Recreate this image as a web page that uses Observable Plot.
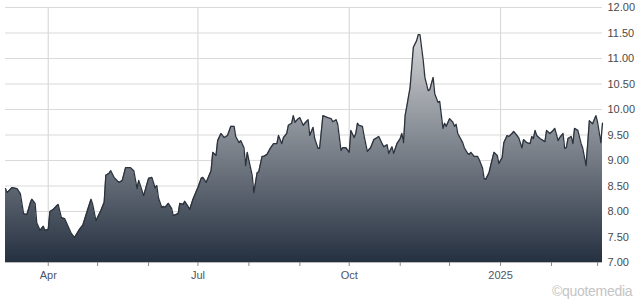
<!DOCTYPE html>
<html>
<head>
<meta charset="utf-8">
<script src="https://cdn.jsdelivr.net/npm/d3@7"></script>
<script src="https://cdn.jsdelivr.net/npm/@observablehq/plot@0.6"></script>
<style>
  html, body { margin: 0; padding: 0; background: #fff; }
  #wrap { position: relative; width: 636px; height: 301px; }
  #credit { position: absolute; left: 552px; top: 283px; font: 14px "Liberation Sans", Arial, sans-serif; color: #c4c4c4; letter-spacing: -0.3px; }
</style>
</head>
<body>
<div id="wrap"><div id="credit">©quotemedia</div></div>
<script>
const dates = [
"2024-03-06","2024-03-07","2024-03-10","2024-03-13","2024-03-15","2024-03-17","2024-03-19","2024-03-21","2024-03-22","2024-03-24",
"2024-03-25","2024-03-27","2024-03-29","2024-03-30","2024-04-01","2024-04-02","2024-04-04","2024-04-07","2024-04-09","2024-04-11",
"2024-04-15","2024-04-17","2024-04-20","2024-04-22","2024-04-25","2024-04-27","2024-04-28","2024-04-30","2024-05-03","2024-05-05",
"2024-05-06","2024-05-08","2024-05-09","2024-05-11","2024-05-14","2024-05-16","2024-05-18","2024-05-21","2024-05-23","2024-05-25",
"2024-05-26","2024-05-29","2024-06-01","2024-06-03","2024-06-05","2024-06-06","2024-06-07","2024-06-09","2024-06-10","2024-06-11",
"2024-06-13","2024-06-15","2024-06-16","2024-06-19","2024-06-20","2024-06-22","2024-06-23","2024-06-25","2024-06-26","2024-06-28",
"2024-07-01","2024-07-03","2024-07-04","2024-07-06","2024-07-09","2024-07-10","2024-07-12","2024-07-13","2024-07-15","2024-07-17",
"2024-07-19","2024-07-21","2024-07-23","2024-07-24","2024-07-26","2024-07-27","2024-07-29","2024-07-30","2024-07-31","2024-08-01",
"2024-08-03","2024-08-04","2024-08-06","2024-08-07","2024-08-09","2024-08-10","2024-08-12","2024-08-14","2024-08-16","2024-08-18",
"2024-08-19","2024-08-21","2024-08-22","2024-08-24","2024-08-25","2024-08-27","2024-08-28","2024-08-29","2024-08-31","2024-09-01",
"2024-09-03","2024-09-04","2024-09-06","2024-09-07","2024-09-09","2024-09-10","2024-09-12","2024-09-13","2024-09-15","2024-09-18",
"2024-09-20","2024-09-21","2024-09-23","2024-09-24","2024-09-26","2024-09-27","2024-09-29","2024-10-01","2024-10-02","2024-10-04",
"2024-10-05","2024-10-06","2024-10-07","2024-10-09","2024-10-10","2024-10-12","2024-10-14","2024-10-16","2024-10-18","2024-10-19",
"2024-10-21","2024-10-22","2024-10-24","2024-10-25","2024-10-27","2024-10-28","2024-10-30","2024-11-01","2024-11-02","2024-11-03",
"2024-11-04","2024-11-05","2024-11-07","2024-11-09","2024-11-11","2024-11-12","2024-11-13","2024-11-15","2024-11-16","2024-11-18",
"2024-11-19","2024-11-21","2024-11-22","2024-11-24","2024-11-25","2024-11-27","2024-11-28","2024-11-29","2024-12-01","2024-12-03",
"2024-12-04","2024-12-05","2024-12-06","2024-12-09","2024-12-10","2024-12-12","2024-12-13","2024-12-14","2024-12-16","2024-12-18",
"2024-12-19","2024-12-21","2024-12-22","2024-12-23","2024-12-25","2024-12-26","2024-12-28","2024-12-30","2024-12-31","2025-01-02",
"2025-01-03","2025-01-05","2025-01-06","2025-01-08","2025-01-09","2025-01-11","2025-01-12","2025-01-14","2025-01-15","2025-01-17",
"2025-01-19","2025-01-20","2025-01-21","2025-01-22","2025-01-23","2025-01-25","2025-01-27","2025-01-28","2025-01-29","2025-01-31",
"2025-02-02","2025-02-03","2025-02-05","2025-02-06","2025-02-08","2025-02-09","2025-02-10","2025-02-11","2025-02-13","2025-02-14",
"2025-02-15","2025-02-17","2025-02-19","2025-02-20","2025-02-22","2025-02-23","2025-02-24","2025-02-26","2025-02-28","2025-03-01",
"2025-03-03","2025-03-04"
];
const prices = [
8.45,8.37,8.47,8.45,8.35,7.96,7.94,8.16,8.24,8.16,
7.78,7.63,7.71,7.63,7.65,8.00,8.04,8.14,7.88,7.86,
7.57,7.49,7.65,7.73,8.04,8.24,8.14,7.82,8.02,8.18,
8.71,8.75,8.80,8.67,8.57,8.61,8.86,8.86,8.80,8.45,
8.61,8.31,8.65,8.67,8.46,8.51,8.27,8.08,8.10,8.08,
8.16,8.06,7.92,7.96,8.16,8.14,8.20,8.10,8.04,8.24,
8.47,8.65,8.67,8.57,8.80,9.16,9.10,9.39,9.53,9.45,
9.49,9.67,9.67,9.47,9.35,9.39,9.25,8.90,9.16,9.00,
8.71,8.37,8.76,8.78,9.08,9.08,9.12,9.24,9.33,9.33,
9.49,9.33,9.45,9.53,9.69,9.73,9.88,9.75,9.82,9.84,
9.69,9.73,9.80,9.49,9.65,9.43,9.24,9.24,9.88,9.84,
9.82,9.76,9.80,9.71,9.20,9.25,9.25,9.16,9.59,9.45,
9.53,9.73,9.69,9.67,9.49,9.18,9.25,9.41,9.45,9.47,
9.33,9.27,9.31,9.14,9.27,9.14,9.33,9.43,9.53,9.35,
9.88,10.06,10.43,11.22,11.35,11.47,11.47,10.96,10.63,10.37,
10.39,10.63,10.31,10.14,10.16,9.63,9.73,9.67,9.82,9.75,
9.67,9.71,9.53,9.35,9.25,9.14,9.12,9.16,9.08,9.08,
9.02,8.86,8.65,8.63,8.76,8.90,9.16,9.10,8.94,9.06,
9.35,9.49,9.47,9.53,9.57,9.49,9.45,9.25,9.41,9.35,
9.33,9.47,9.43,9.59,9.49,9.43,9.39,9.37,9.59,9.53,
9.59,9.63,9.39,9.45,9.53,9.24,9.25,9.43,9.47,9.33,
9.63,9.59,9.33,9.24,8.90,9.33,9.78,9.72,9.88,9.75,
9.35,9.73
];
const xDomain = ["2024-03-06", "2025-03-04"];
const yTicks = [7, 7.5, 8, 8.5, 9, 9.5, 10, 10.5, 11, 11.5, 12];
const monthTicks = ["2024-04-01","2024-05-01","2024-06-01","2024-07-01","2024-08-01","2024-09-01","2024-10-01","2024-11-01","2024-12-01","2025-01-01","2025-02-01","2025-03-01"];
const labelDates = ["2024-04-01","2024-07-01","2024-10-01","2025-01-01"];
const labelTexts = ["Apr","Jul","Oct","2025"];

const data = dates.map((d, i) => ({date: new Date(d), price: prices[i]}));
const labelMap = new Map(labelDates.map((d, i) => [+new Date(d), labelTexts[i]]));

const defs = () => {
  const g = d3.create("svg:defs");
  const lg = g.append("linearGradient").attr("id", "areaGrad").attr("x1", 0).attr("y1", 0).attr("x2", 0).attr("y2", 1);
  lg.append("stop").attr("offset", "0%").attr("stop-color", "#d3d4d6");
  lg.append("stop").attr("offset", "45%").attr("stop-color", "#858b93");
  lg.append("stop").attr("offset", "100%").attr("stop-color", "#253040");
  return g.node();
};

const chart = Plot.plot({
  width: 636,
  height: 301,
  marginLeft: 5,
  marginRight: 34,
  marginTop: 7,
  marginBottom: 39,
  style: {fontFamily: "'Liberation Sans', Arial, sans-serif", fontSize: "11px", background: "#fff"},
  x: {type: "utc", domain: xDomain.map(d => new Date(d)), label: null},
  y: {domain: [7, 12], label: null},
  marks: [
    defs,
    Plot.gridY(yTicks, {stroke: "#dadada", strokeOpacity: 1, strokeWidth: 1.2}),
    Plot.ruleX(labelDates.map(d => new Date(d)), {y1: 7, y2: 12, stroke: "#dadada", strokeWidth: 1.2}),
    Plot.areaY(data, {x: "date", y1: 7, y2: "price", fill: "url(#areaGrad)"}),
    Plot.lineY(data, {x: "date", y: "price", stroke: "#2c333d", strokeWidth: 1.3}),
    Plot.ruleY([7], {stroke: "#b8b8b8"}),
    Plot.axisY(yTicks, {anchor: "right", label: null, tickSize: 0, tickPadding: 5, tickFormat: d => d.toFixed(2), fill: "#4a4a4a", fontSize: 11}),
    Plot.axisX(monthTicks.map(d => new Date(d)), {anchor: "bottom", label: null, tickSize: 4, tickPadding: 5, stroke: "#8a8a8a", tickFormat: d => labelMap.get(+d) || "", fill: "#4b5566", fontSize: 11})
  ]
});
document.getElementById("wrap").prepend(chart);
</script>
</body>
</html>
